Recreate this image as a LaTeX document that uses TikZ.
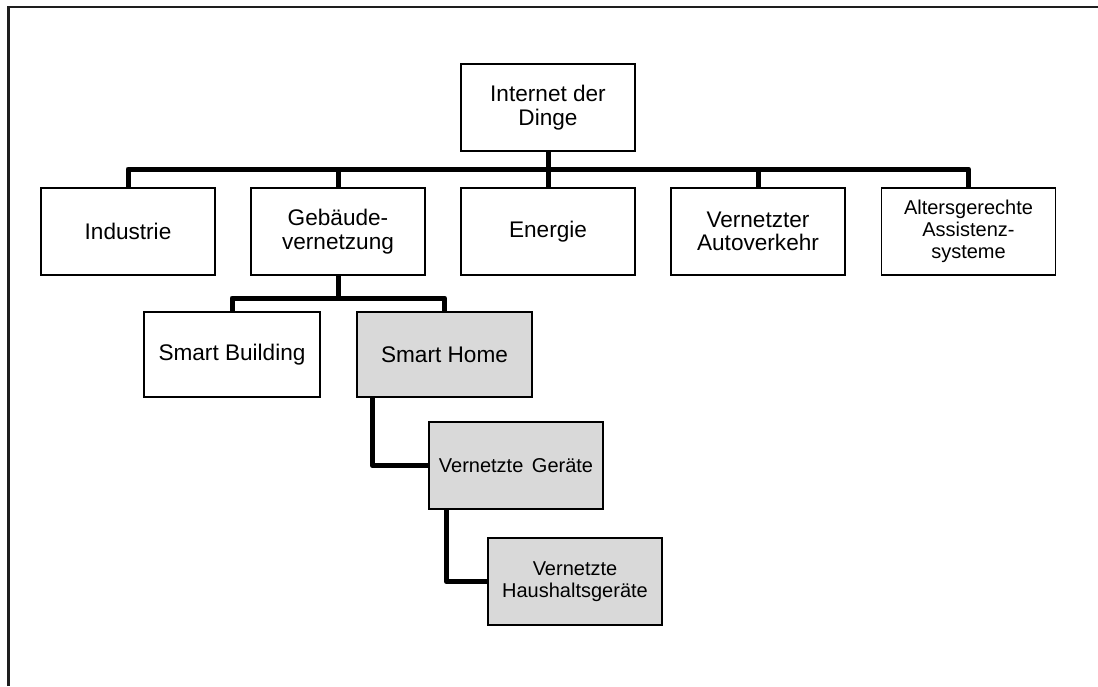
\documentclass[tikz,border=0pt]{standalone}
\usepackage{fontspec}
\setmainfont{Liberation Sans}
\usetikzlibrary{calc}
\definecolor{boxgray}{RGB}{217,217,217}
\definecolor{framegray}{RGB}{30,30,30}
\tikzset{
  box/.style={draw=black, line width=0.75pt, fill=white, inner sep=0pt,
    minimum width=87pt, minimum height=43.5pt, align=center,
    font=\fontsize{11.3}{11.8}\selectfont},
  smallbox/.style={box, font=\fontsize{10}{11}\selectfont},
  shaded/.style={fill=boxgray},
  link/.style={line width=2.5pt, line join=round, line cap=butt},
}
\begin{document}
\begin{tikzpicture}[x=0.5pt, y=-0.5pt]
  \useasboundingbox (0,0) rectangle (1098,686);
  % open frame: top and left edges only
  \draw[framegray, line width=1.1pt] (8.5,686) -- (8.5,7) -- (1098,7);

  % root and first level
  \node[box] (idd) at (548,107.5) {Internet der\\Dinge};
  \node[box] (ind) at (128,231.5) {Industrie};
  \node[box] (geb) at (338,231.5) {Gebäude-\\vernetzung};
  \node[box] (ene) at (548,231.5) {Energie};
  \node[box] (auto) at (758,231.5) {Vernetzter\\Autoverkehr};
  \node[smallbox] (alt) at (968.5,231.5) {Altersgerechte\\Assistenz-\\systeme};

  % second level
  \node[box, minimum width=88pt, minimum height=42.5pt] (sb) at (232,354.5) {Smart Building};
  \node[box, shaded, minimum width=87.5pt, minimum height=42.5pt] (sh) at (444.5,354.5) {Smart Home};

  % deeper levels
  \node[smallbox, shaded] (vg) at (516,465.5) {Vernetzte\hspace{0.15em} Geräte};
  \node[smallbox, shaded] (vh) at (575,581.5) {Vernetzte\\Haushaltsgeräte};

  % bus lines
  \coordinate (busA) at (0,169);
  \coordinate (busB) at (0,298);
  \draw[link] (idd.south) -- (idd.south |- busA);
  \draw[link] (ind.north) |- (alt.north |- busA) -- (alt.north);
  \draw[link] (geb.north) -- (geb.north |- busA);
  \draw[link] (ene.north) -- (ene.north |- busA);
  \draw[link] (auto.north) -- (auto.north |- busA);

  \draw[link] (geb.south) -- (geb.south |- busB);
  \draw[link] (sb.north) |- (sh.north |- busB) -- (sh.north);

  \draw[link] ($(sh.south west)+(16,0)$) |- (vg.west);
  \draw[link] ($(vg.south west)+(18,0)$) |- (vh.west);
\end{tikzpicture}
\end{document}
